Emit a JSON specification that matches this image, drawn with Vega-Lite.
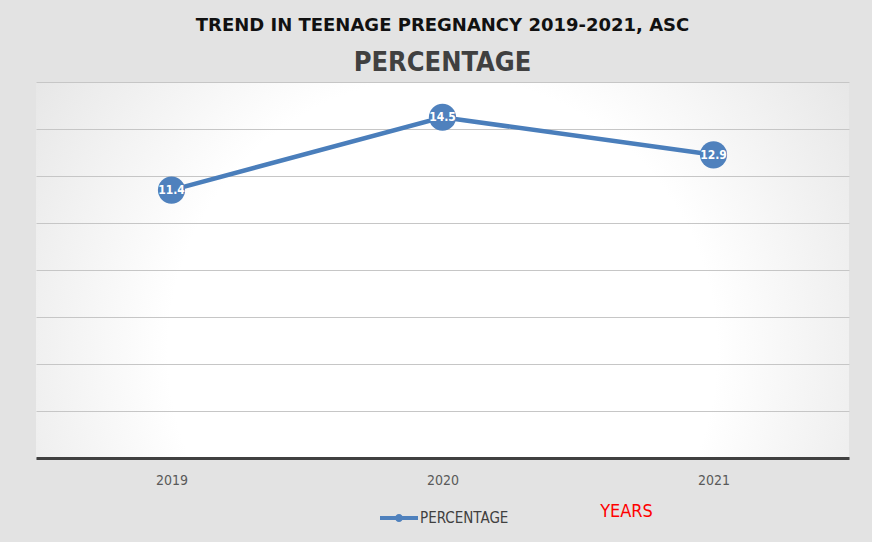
{
  "$schema": "https://vega.github.io/schema/vega-lite/v6.json",
  "width": 813,
  "height": 376,
  "autosize": {"type": "none"},
  "padding": {"left": 36, "top": 82, "right": 23, "bottom": 84},
  "background": "#e3e3e3",
  "view": {
    "stroke": null,
    "fill": {
      "gradient": "radial",
      "x1": 0.5, "y1": 0.6, "r1": 0,
      "x2": 0.5, "y2": 0.6, "r2": 0.75,
      "stops": [
        {"offset": 0, "color": "#ffffff"},
        {"offset": 0.45, "color": "#ffffff"},
        {"offset": 1, "color": "#d9d9d9"}
      ]
    }
  },
  "title": {
    "text": "TREND IN TEENAGE PREGNANCY 2019-2021, ASC",
    "subtitle": "PERCENTAGE",
    "anchor": "middle",
    "font": "DejaVu Sans",
    "fontSize": 18,
    "fontWeight": "bold",
    "color": "#111111",
    "subtitleFont": "DejaVu Sans Condensed, Roboto",
    "subtitleFontSize": 27,
    "subtitleFontWeight": "bold",
    "subtitleColor": "#404040",
    "subtitlePadding": 15,
    "offset": 6
  },
  "data": {
    "values": [
      {"year": "2019", "pct": 11.4, "series": "PERCENTAGE"},
      {"year": "2020", "pct": 14.5, "series": "PERCENTAGE"},
      {"year": "2021", "pct": 12.9, "series": "PERCENTAGE"}
    ]
  },
  "encoding": {
    "x": {
      "field": "year",
      "type": "ordinal",
      "scale": {"type": "point", "padding": 0.5},
      "axis": {
        "labelAngle": 0,
        "domain": true,
        "domainColor": "#404040",
        "domainWidth": 3,
        "ticks": false,
        "grid": false,
        "labelFont": "DejaVu Sans Condensed, Roboto",
        "labelFontSize": 14,
        "labelColor": "#595959",
        "labelPadding": 15,
        "title": "YEARS",
        "titleColor": "#ff0000",
        "titleFont": "DejaVu Sans Condensed, Roboto",
        "titleFontSize": 18,
        "titleFontWeight": "normal",
        "titleX": 590,
        "titleY": 53,
        "titleBaseline": "middle"
      }
    },
    "y": {
      "field": "pct",
      "type": "quantitative",
      "scale": {"domain": [0, 16], "nice": false, "zero": true},
      "axis": {
        "values": [0, 2, 4, 6, 8, 10, 12, 14, 16],
        "grid": true,
        "gridColor": "#c6c6c6",
        "gridWidth": 1,
        "domain": false,
        "ticks": false,
        "labels": false,
        "title": null
      }
    }
  },
  "layer": [
    {
      "mark": {"type": "line", "color": "#4a7ebb", "strokeWidth": 4.5}
    },
    {
      "mark": {"type": "circle", "size": 740, "opacity": 1},
      "encoding": {
        "color": {
          "field": "series",
          "type": "nominal",
          "scale": {"range": ["#4f81bd"]},
          "legend": {
            "orient": "none",
            "legendX": 344,
            "legendY": 417,
            "title": null,
            "symbolType": "M-1,-0.1L1,-0.1L1,0.1L-1,0.1Z M0.21,0A0.21,0.21 0 1,1 -0.21,0A0.21,0.21 0 1,1 0.21,0Z",
            "symbolSize": 1444,
            "symbolStrokeWidth": 0,
            "symbolOpacity": 1,
            "labelFont": "DejaVu Sans Condensed, Roboto",
            "labelFontSize": 15,
            "labelColor": "#404040",
            "labelOffset": 2
          }
        }
      }
    },
    {
      "mark": {
        "type": "text",
        "color": "#ffffff",
        "font": "DejaVu Sans Condensed, Roboto",
        "fontSize": 12,
        "fontWeight": "bold",
        "baseline": "middle",
        "align": "center"
      },
      "encoding": {
        "text": {"field": "pct", "type": "quantitative", "format": ".1f"}
      }
    }
  ]
}
